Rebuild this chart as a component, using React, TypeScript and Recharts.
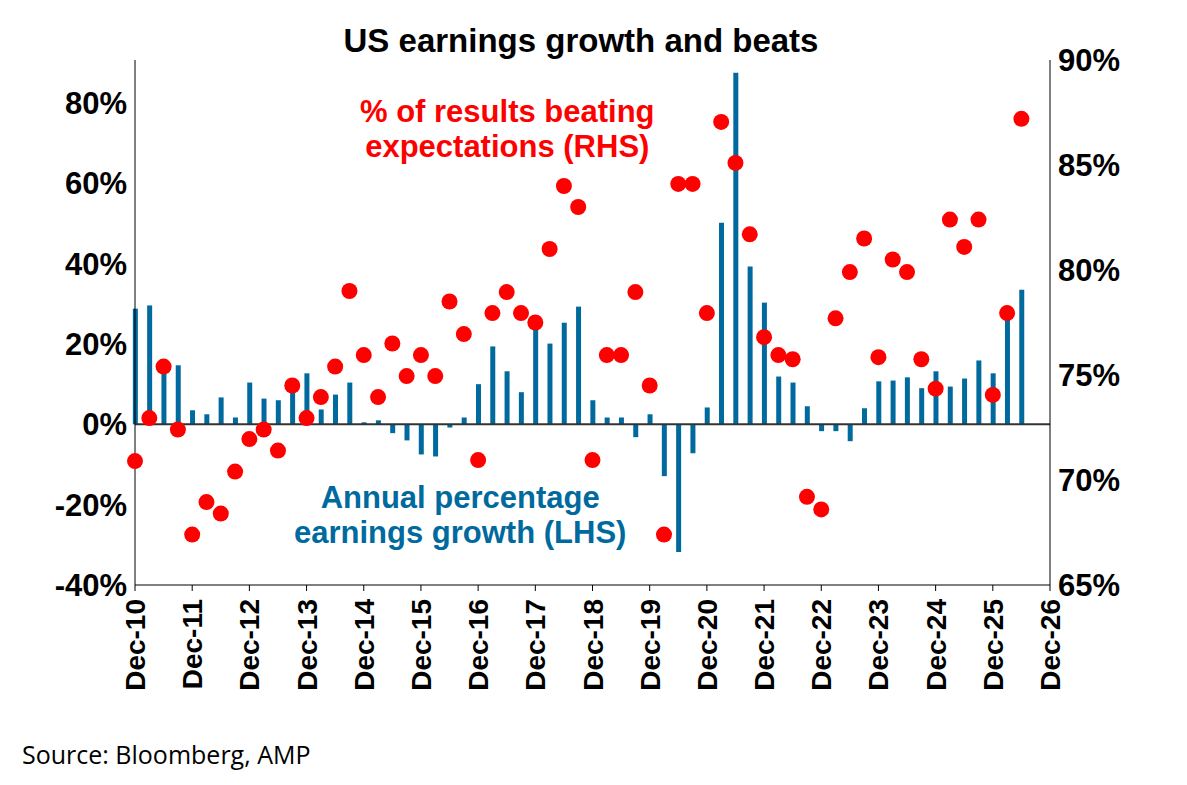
import { ComposedChart, Bar, Scatter, XAxis, YAxis, ReferenceLine } from 'recharts';

// quarterly, starting Dec-10
const growth = [
  28.8, 29.6, 13.7, 14.7, 3.5, 2.5, 6.7, 1.7, 10.4, 6.4, 6, 8.5, 12.7, 3.7, 7.4, 10.4,
  0.5, 1, -2.2, -4, -7.5, -8, -0.8, 1.7, 10, 19.4, 13.2, 8, 24.5, 20.1, 25.3, 29.3,
  6, 1.7, 1.7, -3.2, 2.5, -12.9, -31.8, -7.2, 4.2, 50.2, 87.5, 39.3, 30.3, 11.9, 10.4, 4.5,
  -1.7, -1.7, -4.2, 4, 10.7, 10.9, 11.7, 9, 13.2, 9.4, 11.4, 15.9, 12.7, 27.8, 33.5,
];
const beats = [
  70.9, 72.95, 75.4, 72.4, 67.4, 68.95, 68.4, 70.4, 71.95, 72.4, 71.4, 74.5, 72.95, 73.95, 75.4, 79,
  75.95, 73.95, 76.5, 74.95, 75.95, 74.95, 78.5, 76.95, 70.95, 77.95, 78.95, 77.95, 77.5, 81, 84, 83,
  70.95, 75.95, 75.95, 78.95, 74.5, 67.4, 84.1, 84.1, 77.95, 87.05, 85.1, 81.7, 76.8, 75.95, 75.75, 69.2,
  68.6, 77.7, 79.9, 81.5, 75.85, 80.5, 79.9, 75.75, 74.35, 82.4, 81.1, 82.4, 74.05, 77.95, 87.2,
];
const yearTicks = [0, 4, 8, 12, 16, 20, 24, 28, 32, 36, 40, 44, 48, 52, 56, 60, 64];
const leftTicks = [-40, -20, 0, 20, 40, 60, 80];
const rightTicks = [65, 70, 75, 80, 85, 90];

const data = growth.map((g, i) => ({ i, growth: g, beat: beats[i] }));

const font = 'Arial, "Liberation Sans", sans-serif';
const tickStyle = { fontSize: 31, fontWeight: 700, fill: '#000', fontFamily: font };

const XTick = ({ x, y, payload }: any) => (
  <text x={x} y={y + 6} transform={`rotate(-90 ${x} ${y + 6})`} textAnchor="end" dy={10}
    style={{ ...tickStyle, fontSize: 28 }}>
    {`Dec-${10 + payload.value / 4}`}
  </text>
);

const Dot = ({ cx, cy }: any) => <circle cx={cx} cy={cy} r={8} fill="#ff0000" />;

export default function App() {
  return (
    <div style={{ position: 'relative', width: 1170, height: 770, fontFamily: font }}>
      <div style={{ position: 'absolute', left: 0, width: 1146, top: 14, textAlign: 'center', fontSize: 33, fontWeight: 700 }}>
        US earnings growth and beats
      </div>
      <ComposedChart width={1170} height={700} data={data} margin={{ top: 52, right: 28, left: 0, bottom: 0 }}>
        <XAxis dataKey="i" type="number" domain={[0, 64]} ticks={yearTicks} tick={<XTick />} height={123}
          stroke="#000" tickSize={6} interval={0} />
        <YAxis yAxisId="l" domain={[-40, 90.7]} ticks={leftTicks} tickFormatter={(v) => `${v}%`} width={127}
          tick={tickStyle} stroke="#000" tickLine={false} />
        <YAxis yAxisId="r" orientation="right" domain={[65, 90]} ticks={rightTicks} tickFormatter={(v) => `${v}%`}
          width={100} tick={tickStyle} stroke="#000" tickLine={false} />
        <ReferenceLine yAxisId="l" y={0} stroke="#333" strokeWidth={2} />
        <Bar yAxisId="l" dataKey="growth" fill="#006a9e" barSize={5} isAnimationActive={false} />
        <Scatter yAxisId="r" dataKey="beat" shape={<Dot />} isAnimationActive={false} />
      </ComposedChart>
      <div style={{ position: 'absolute', left: 352, top: 86, color: '#ff0000', fontSize: 31, fontWeight: 700, textAlign: 'center', lineHeight: '35px' }}>
        % of results beating<br />expectations (RHS)
      </div>
      <div style={{ position: 'absolute', left: 286, top: 472, color: '#006a9e', fontSize: 31, fontWeight: 700, textAlign: 'center', lineHeight: '35px' }}>
        Annual percentage<br />earnings growth (LHS)
      </div>
      <div style={{ position: 'absolute', left: 14, top: 729, fontSize: 25, fontFamily: '"Open Sans", sans-serif' }}>
        Source: Bloomberg, AMP
      </div>
    </div>
  );
}
